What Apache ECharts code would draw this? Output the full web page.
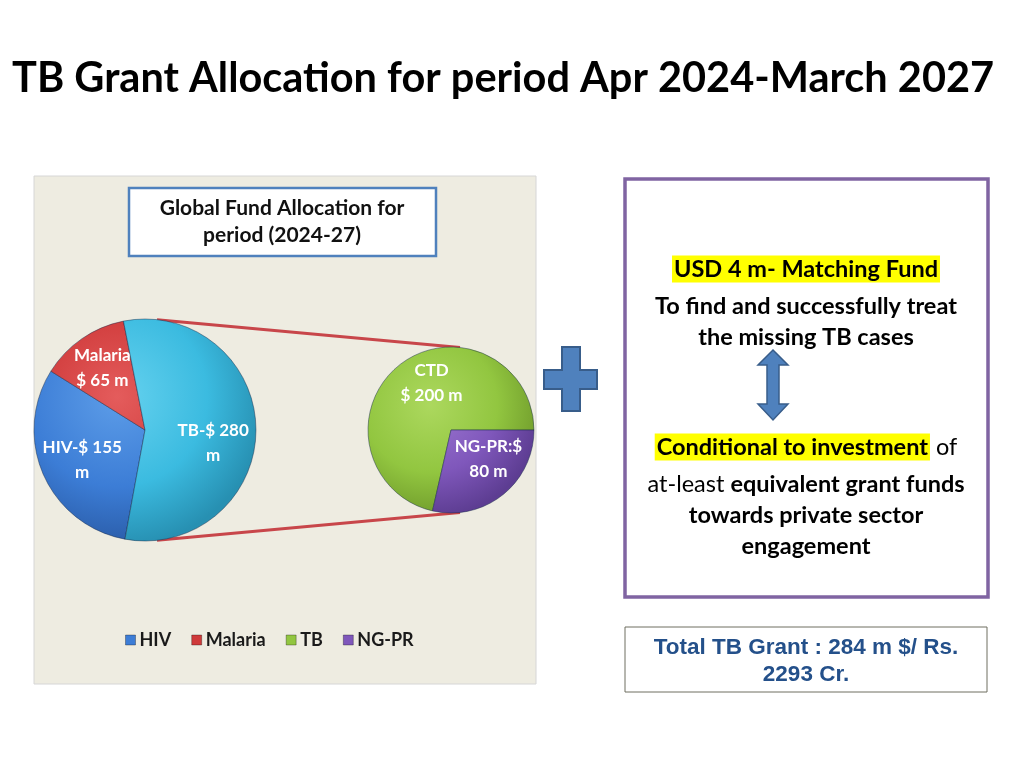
<!DOCTYPE html>
<html>
<head>
<meta charset="utf-8">
<title>TB Grant Allocation</title>
<script src="https://cdn.jsdelivr.net/npm/echarts@6/dist/echarts.min.js"></script>
<style>
    html, body { margin: 0; padding: 0; background: #fff; }
    #chart { width: 1024px; height: 768px; }
</style>
</head>
<body>
<div id="chart"></div>
<script>
// 数据
var mainCats = ['HIV', 'Malaria', 'TB-$ 280 m'];
var mainValues = [155, 65, 280];
var mainLabels = ['HIV-$ 155\nm', 'Malaria\n$ 65 m', 'TB-$ 280\nm'];
var splitCats = ['TB', 'NG-PR'];
var splitValues = [200, 80];
var splitLabels = ['CTD\n$ 200 m', 'NG-PR:$\n80 m'];
var legendCats = ['HIV', 'Malaria', 'TB', 'NG-PR'];

var font = 'Lato, "Open Sans", sans-serif';

// 饼图位置
var c1 = [145, 430], r1 = 111;
var c2 = [451, 430], r2 = 83;

// 标签微调 [dx, dy]
var mainLabelShift = [[6, 0], [0, 0], [-7, 14]];
var splitLabelShift = [[14, -5], [4, -13]];

// 颜色: [亮, 基色, 暗]
var shades = {
    'HIV': ['#5d9de8', '#3c7dd6', '#2a5ca8'],
    'Malaria': ['#e45c5c', '#cf3a3a', '#9e2828'],
    'TB-$ 280 m': ['#66d2ef', '#3bbbe0', '#2790b2'],
    'TB': ['#acd85e', '#92c640', '#719d2c'],
    'NG-PR': ['#9d78d2', '#7f57bb', '#5d3d92']
};
var flat = { 'HIV': '#3c7dd6', 'Malaria': '#cf3a3a', 'TB': '#92c640', 'NG-PR': '#7f57bb' };

function grad(name, c, r) {
    var s = shades[name];
    return {
        type: 'radial', global: true,
        x: c[0] - r * 0.25, y: c[1] - r * 0.3, r: r * 1.35,
        colorStops: [{ offset: 0, color: s[0] }, { offset: 0.6, color: s[1] }, { offset: 1, color: s[2] }]
    };
}

function pieData(cats, values, c, r) {
    return cats.map(function (n, i) {
        return { name: n, value: values[i], itemStyle: { color: grad(n, c, r) } };
    });
}

function labelData(cats, values) {
    return cats.map(function (n, i) {
        return { name: n, value: values[i] };
    });
}

// 连接线端点
function edge(c, r, dx, sign) {
    return [c[0] + dx, c[1] + sign * Math.sqrt(r * r - dx * dx)];
}
var p1t = edge(c1, r1, 12, -1), p1b = edge(c1, r1, 12, 1);
var p2t = edge(c2, r2, 9, -1), p2b = edge(c2, r2, 9, 1);

var labelStyle = {
    show: true, position: 'inside', color: '#fff', fontFamily: font,
    fontWeight: 'bold', fontSize: 17, lineHeight: 25
};

var txt = 'bold 23.5px ' + font;

var chart = echarts.init(document.getElementById('chart'));
var option = {
    animation: false,
    title: {
        text: 'TB Grant Allocation for period Apr 2024-March 2027',
        left: 7, top: 53,
        textStyle: { fontFamily: font, fontWeight: 'bold', fontSize: 41.5, color: '#000' }
    },
    legend: {
        left: 120, top: 626,
        itemWidth: 10, itemHeight: 10, itemGap: 20,
        icon: 'rect',
        selectedMode: false,
        textStyle: { fontFamily: font, fontWeight: 'bold', fontSize: 18, color: '#1a1a1a', padding: [0, 0, 0, -1] },
        data: legendCats.map(function (n) {
            return { name: n, itemStyle: { color: flat[n], borderColor: 'rgba(0,0,0,0.3)', borderWidth: 1 } };
        })
    },
    graphic: [
        // 图表区背景
        { type: 'rect', z: -10, shape: { x: 34, y: 176, width: 502, height: 508 },
          style: { fill: '#eeece1', stroke: '#d6d6d6', lineWidth: 1 } },
        // 图表标题框
        { type: 'rect', z: -5, shape: { x: 129, y: 188, width: 307, height: 68 },
          style: { fill: '#fff', stroke: '#4f81bd', lineWidth: 2.5 } },
        { type: 'text', z: -4, x: 282, y: 222,
          style: { text: 'Global Fund Allocation for\nperiod (2024-27)', fill: '#111', font: 'bold 21px ' + font,
                   align: 'center', verticalAlign: 'middle', lineHeight: 27 } },
        // 连接线
        { type: 'line', z: -6, shape: { x1: p1t[0], y1: p1t[1], x2: p2t[0], y2: p2t[1] },
          style: { stroke: '#c8464a', lineWidth: 3 } },
        { type: 'line', z: -6, shape: { x1: p1b[0], y1: p1b[1], x2: p2b[0], y2: p2b[1] },
          style: { stroke: '#c8464a', lineWidth: 3 } },
        // 加号
        { type: 'polygon', shape: { points: [[562, 347], [580, 347], [580, 370], [597, 370], [597, 389], [580, 389],
                                              [580, 411], [562, 411], [562, 389], [544, 389], [544, 370], [562, 370]] },
          style: { fill: '#4f81bd', stroke: '#385d8a', lineWidth: 2 } },
        // 右侧说明框
        { type: 'rect', shape: { x: 625, y: 179, width: 363, height: 418 },
          style: { fill: '#fff', stroke: '#8064a2', lineWidth: 3.5 } },
        { type: 'text', x: 806, y: 269,
          style: { text: '{hl|USD 4 m- Matching Fund}', align: 'center', verticalAlign: 'middle',
                   rich: { hl: { font: txt, fill: '#000', backgroundColor: '#ffff00', padding: [2, 2, 1, 2] } } } },
        { type: 'text', x: 806, y: 306,
          style: { text: 'To find and successfully treat', fill: '#000', font: txt, align: 'center', verticalAlign: 'middle' } },
        { type: 'text', x: 806, y: 337,
          style: { text: 'the missing TB cases', fill: '#000', font: txt, align: 'center', verticalAlign: 'middle' } },
        // 双向箭头
        { type: 'polygon', shape: { points: [[773, 350], [788, 365], [779, 365], [779, 404], [788, 404], [773, 420],
                                              [758, 404], [767, 404], [767, 365], [758, 365]] },
          style: { fill: '#4f81bd', stroke: '#385d8a', lineWidth: 1.5 } },
        { type: 'text', x: 806, y: 447,
          style: { text: '{hl|Conditional to investment}{n| of}', align: 'center', verticalAlign: 'middle',
                   rich: { hl: { font: txt, fill: '#000', backgroundColor: '#ffff00', padding: [2, 2, 1, 2] },
                           n: { font: '23.5px ' + font, fill: '#000' } } } },
        { type: 'text', x: 806, y: 484,
          style: { text: '{n|at-least }{b|equivalent grant funds}', align: 'center', verticalAlign: 'middle',
                   rich: { n: { font: '23.5px ' + font, fill: '#000' }, b: { font: txt, fill: '#000' } } } },
        { type: 'text', x: 806, y: 515,
          style: { text: 'towards private sector', fill: '#000', font: txt, align: 'center', verticalAlign: 'middle' } },
        { type: 'text', x: 806, y: 546,
          style: { text: 'engagement', fill: '#000', font: txt, align: 'center', verticalAlign: 'middle' } },
        // 总计框
        { type: 'rect', shape: { x: 625, y: 627, width: 362, height: 65 },
          style: { fill: '#fff', stroke: '#6f6f60', lineWidth: 1 } },
        { type: 'text', x: 806, y: 661,
          style: { text: 'Total TB Grant : 284 m $/ Rs.\n2293 Cr.', fill: '#24508a',
                   font: 'bold 22.5px "Liberation Sans", Arial, sans-serif', align: 'center', verticalAlign: 'middle', lineHeight: 27 } }
    ],
    series: [
        {
            type: 'pie', center: c1, radius: [0, r1], startAngle: 259.6, clockwise: true,
            label: { show: false }, labelLine: { show: false }, silent: true,
            itemStyle: { borderColor: 'rgba(20,40,70,0.45)', borderWidth: 1 },
            data: pieData(mainCats, mainValues, c1, r1)
        },
        {
            type: 'pie', center: c2, radius: [0, r2], startAngle: 257.1, clockwise: true,
            label: { show: false }, labelLine: { show: false }, silent: true,
            itemStyle: { borderColor: 'rgba(20,40,70,0.45)', borderWidth: 1 },
            data: pieData(splitCats, splitValues, c2, r2)
        },
        {
            // 标签层
            type: 'pie', center: c1, radius: [r1 * 0.3, r1], startAngle: 259.6, clockwise: true, silent: true,
            itemStyle: { color: 'rgba(0,0,0,0)' }, labelLine: { show: false },
            label: echarts.util.extend({ formatter: function (p) { return mainLabels[p.dataIndex]; } }, labelStyle),
            labelLayout: function (p) {
                var s = mainLabelShift[p.dataIndex];
                return { dx: s[0], dy: s[1] };
            },
            data: labelData(mainCats, mainValues)
        },
        {
            type: 'pie', center: c2, radius: [r2 * 0.22, r2], startAngle: 257.1, clockwise: true, silent: true,
            itemStyle: { color: 'rgba(0,0,0,0)' }, labelLine: { show: false },
            label: echarts.util.extend({ formatter: function (p) { return splitLabels[p.dataIndex]; } }, labelStyle),
            labelLayout: function (p) {
                var s = splitLabelShift[p.dataIndex];
                return { dx: s[0], dy: s[1] };
            },
            data: labelData(splitCats, splitValues)
        }
    ]
};
chart.setOption(option, true);
</script>
</body>
</html>
